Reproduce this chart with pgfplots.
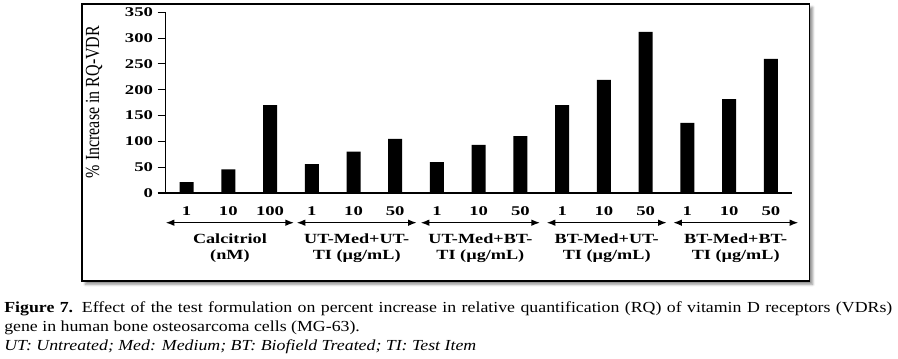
\documentclass[border=0pt]{standalone}
\usepackage{pgfplots}
\pgfplotsset{compat=1.18}
\usepackage{fontspec}
\setmainfont{Liberation Serif}
\usepackage{graphicx}
\usetikzlibrary{arrows.meta,shadows.blur}

\newcommand{\tl}[1]{\scalebox{1.4}[1]{\fontsize{10pt}{12pt}\selectfont\bfseries #1}}
\newcommand{\gl}[1]{\scalebox{1.3}[1]{\fontsize{10.5pt}{12pt}\selectfont\bfseries #1}}
\newlength\capw
\newcommand{\capfont}{\fontsize{11.5pt}{14pt}\selectfont}

\begin{document}%
\settowidth{\capw}{\capfont\itshape UT: Untreated; Med: Medium; BT: Biofield Treated; TI: Test Item}%
\pgfmathsetmacro\capsx{354/\capw}%
\pgfmathsetlengthmacro\lonew{666/\capsx}%
\begin{tikzpicture}[x=0.75pt,y=0.75pt]
\useasboundingbox (-165.7,-166) rectangle (732.3,193);
\filldraw[fill=white, draw=black, line width=1pt,
  blur shadow={shadow xshift=2.5pt, shadow yshift=-2.5pt, shadow blur steps=6, shadow opacity=45}]
  (-83.7,189) rectangle (643.6,-88);

\begin{axis}[at={(0,0)}, anchor=south west, scale only axis,
  width=469.5pt, height=135.5pt,
  xmin=-0.5, xmax=14.5, ymin=0, ymax=350,
  axis x line*=bottom, axis y line*=left,
  axis line style={black, line width=1pt},
  ybar, bar width=10.5pt,
  xtick={0,...,14},
  xticklabels={\tl{1},\tl{10},\tl{100},\tl{1},\tl{10},\tl{50},\tl{1},\tl{10},\tl{50},\tl{1},\tl{10},\tl{50},\tl{1},\tl{10},\tl{50}},
  xtick style={draw=none},
  xticklabel style={anchor=base, yshift=-11pt},
  ytick={0,50,...,350},
  yticklabels={\tl{0},\tl{50},\tl{100},\tl{150},\tl{200},\tl{250},\tl{300},\tl{350}},
  ytick style={black, line width=0.8pt},
  tick align=outside, major tick length=6pt,
  yticklabel style={anchor=east},
  clip=false,
]
\addplot[fill=black, draw=none] coordinates {
(0,21) (1,46) (2,170) (3,56) (4,80) (5,105) (6,60) (7,93) (8,110)
(9,170) (10,219) (11,312) (12,136) (13,182) (14,260)};
\end{axis}

\node[rotate=90, inner sep=0] at (-71.7,91) {\scalebox{1}[1.25]{\fontsize{12pt}{14pt}\selectfont \% Increase in RQ-VDR}};

\foreach \a/\b in {0/128.3, 131/251, 255/374.3, 381/501, 507.6/632.6}
  \draw[{Latex[length=6.5pt,width=5pt]}-{Latex[length=6.5pt,width=5pt]}, line width=1pt] (\a,-29.7) -- (\b,-29.7);

\foreach \x/\la/\lb in {64.2/{Calcitriol}/{(nM)}, 191/{UT-Med+UT-}/{TI (µg/mL)}, 314.7/{UT-Med+BT-}/{TI (µg/mL)}, 441/{BT-Med+UT-}/{TI (µg/mL)}, 570/{BT-Med+BT-}/{TI (µg/mL)}}{
  \node[anchor=base, inner sep=0] at (\x,-50.3) {\gl{\la}};
  \node[anchor=base, inner sep=0] at (\x,-67) {\gl{\lb}};
}

\node[anchor=base west, inner sep=0] at (-161.7,-119.3) {\scalebox{\capsx}[1]{\capfont\makebox[\lonew][s]{\textbf{Figure 7.} Effect of the test formulation on percent increase in relative quantification (RQ) of vitamin D receptors (VDRs)}}};
\node[anchor=base west, inner sep=0] at (-161.7,-138.5) {\scalebox{\capsx}[1]{\capfont gene in human bone osteosarcoma cells (MG-63).}};
\node[anchor=base west, inner sep=0] at (-161.7,-157.3) {\scalebox{\capsx}[1]{\capfont\itshape UT: Untreated; Med: Medium; BT: Biofield Treated; TI: Test Item}};
\end{tikzpicture}%
\end{document}
